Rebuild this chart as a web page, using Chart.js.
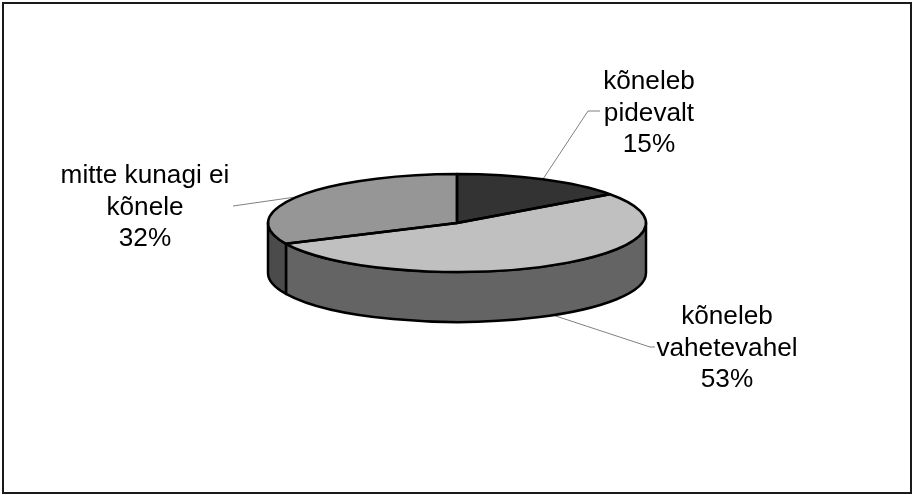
<!DOCTYPE html>
<html>
<head>
<meta charset="utf-8">
<script src="https://cdn.jsdelivr.net/npm/chart.js"></script>
<style>
  body { margin: 0; background: #fff; }
</style>
</head>
<body>
<canvas id="myChart" width="913" height="495"></canvas>
<script>
// data
const categories = [['kõneleb', 'pidevalt'], ['kõneleb', 'vahetevahel'], ['mitte kunagi ei', 'kõnele']];
const values = [15, 53, 32];

// look
const topColors = ['#333333', '#c0c0c0', '#969696'];
const sideColors = ['#1f1f1f', '#646464', '#4b4b4b'];
const CX = 457, CY = 223, RX = 189, RY = 49, DEPTH = 50;
const FONT = '26.2px "Liberation Sans", Arial, sans-serif';
const LINE_H = 31.5;
// text anchor (centre x, first baseline) and leader line points, label end first
const labelLayout = [
  { x: 649, y: 89, line: [[600, 111], [588, 111]] },
  { x: 727, y: 324, line: [[655, 347], [650, 347]] },
  { x: 145, y: 183, line: [[233, 206]] }
];

const total = values.reduce((a, b) => a + b, 0);

const pie3d = {
  id: 'pie3d',
  beforeDatasetsDraw(chart) {
    const ctx = chart.ctx;
    const arcs = chart.getDatasetMeta(0).data;

    // frame
    ctx.save();
    ctx.strokeStyle = '#1a1a1a';
    ctx.lineWidth = 2;
    ctx.strokeRect(3, 3, 908, 490);
    ctx.restore();

    // leader lines and labels
    ctx.save();
    ctx.strokeStyle = '#808080';
    ctx.lineWidth = 1;
    ctx.fillStyle = '#000';
    ctx.font = FONT;
    ctx.textAlign = 'center';
    ctx.textBaseline = 'alphabetic';
    arcs.forEach((arc, i) => {
      const mid = (arc.startAngle + arc.endAngle) / 2;
      let px = CX + RX * Math.cos(mid);
      let py = CY + RY * Math.sin(mid);
      if (Math.sin(mid) > 0) py += DEPTH;
      const lay = labelLayout[i];
      ctx.beginPath();
      ctx.moveTo(px, py);
      for (let j = lay.line.length - 1; j >= 0; j--) ctx.lineTo(lay.line[j][0], lay.line[j][1]);
      ctx.stroke();
      const lines = categories[i].concat([Math.round(values[i] / total * 100) + '%']);
      lines.forEach((t, k) => ctx.fillText(t, lay.x, lay.y + k * LINE_H));
    });
    ctx.restore();

    // side walls (front half only)
    ctx.save();
    ctx.strokeStyle = '#000';
    ctx.lineWidth = 2.5;
    ctx.lineJoin = 'round';
    arcs.forEach((arc, i) => {
      const a0 = Math.max(arc.startAngle, 0);
      const a1 = Math.min(arc.endAngle, Math.PI);
      if (a1 <= a0) return;
      ctx.beginPath();
      ctx.ellipse(CX, CY, RX, RY, 0, a0, a1);
      ctx.ellipse(CX, CY + DEPTH, RX, RY, 0, a1, a0, true);
      ctx.closePath();
      ctx.fillStyle = sideColors[i];
      ctx.fill();
      ctx.stroke();
    });
    ctx.restore();

    // squash the pie for the top faces
    const a = arcs[0];
    ctx.save();
    ctx.translate(CX, CY);
    ctx.scale(1, RY / RX);
    ctx.translate(-a.x, -a.y);
  },
  afterDatasetsDraw(chart) {
    const ctx = chart.ctx;
    const arcs = chart.getDatasetMeta(0).data;
    ctx.restore();
    // outlines of the top faces, even width
    ctx.save();
    ctx.strokeStyle = '#000';
    ctx.lineWidth = 2.5;
    ctx.lineJoin = 'round';
    arcs.forEach(arc => {
      ctx.save();
      ctx.translate(CX, CY);
      ctx.scale(1, RY / RX);
      ctx.translate(-arc.x, -arc.y);
      ctx.beginPath();
      ctx.moveTo(arc.x, arc.y);
      ctx.arc(arc.x, arc.y, arc.outerRadius, arc.startAngle, arc.endAngle);
      ctx.closePath();
      ctx.restore();
      ctx.stroke();
    });
    ctx.restore();
  }
};

const ctx = document.getElementById('myChart').getContext('2d');
const chart = new Chart(ctx, {
  type: 'pie',
  data: {
    labels: categories.map(c => c.join(' ')),
    datasets: [{
      data: values,
      backgroundColor: topColors,
      borderWidth: 0,
      clip: false
    }]
  },
  options: {
    responsive: false,
    animation: false,
    events: [],
    radius: RX,
    plugins: {
      legend: { display: false },
      tooltip: { enabled: false }
    }
  },
  plugins: [pie3d]
});
</script>
</body>
</html>
